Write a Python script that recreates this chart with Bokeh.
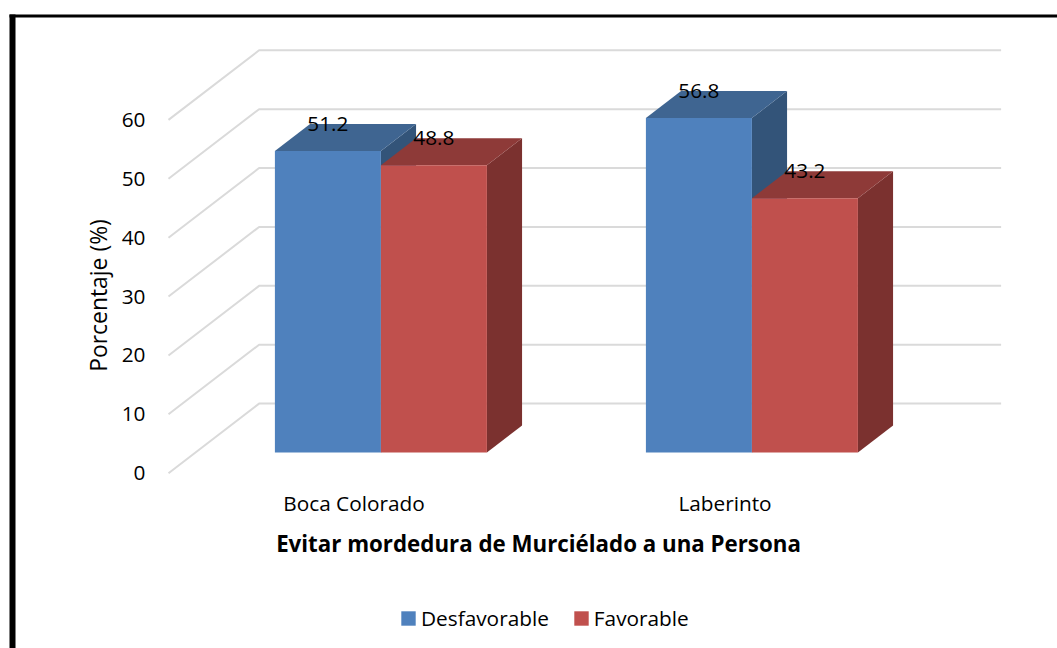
import math
from bokeh.plotting import figure
from bokeh.models import Range1d, FixedTicker, Legend, LegendItem, BoxAnnotation, ColumnDataSource, Label
from bokeh.core.properties import value
from bokeh.embed import file_html
from bokeh.resources import INLINE

categories = ["Boca Colorado", "Laberinto"]
series_names = ["Desfavorable", "Favorable"]
desfavorable = [51.2, 56.8]
favorable = [48.8, 43.2]
y_ticks = [0, 10, 20, 30, 40, 50, 60]
x_title = "Evitar mordedura de Murciélado a una Persona"
y_title = "Porcentaje (%)"

FONT = "Open Sans"
SIZE = "20.8px"
front_colors = ["#4F81BD", "#C0504D"]
top_colors = ["#3F6591", "#8E3A38"]
side_colors = ["#335479", "#7B312F"]
GRID = "#DADADA"
W, H = 1057, 648

DX, DY = 0.2442, 11.82      # oblique depth vector, in data units
NEAR, FAR = 0.297, 0.685    # bar depth extents
BAR_W = 1 / 3.5
GAP = 1.5 * BAR_W


def proj(x, v, d):
    return x + d * DX, v + d * DY


p = figure(width=W, height=H, output_backend="svg", toolbar_location=None,
           x_range=Range1d(-0.4528, 2.3962), y_range=Range1d(-29.77, 80.28),
           min_border=0, outline_line_color=None,
           background_fill_color="white", border_fill_color="white")
p.grid.visible = False

# walls
n = len(categories)
for t in y_ticks:
    xa, ya = proj(0, t, 0)
    xb, yb = proj(0, t, 1)
    xc, yc = proj(n, t, 1)
    p.line([xa, xb, xc], [ya, yb, yc], line_color=GRID, line_width=2)

# bars
legend_r = [None, None]
for i in range(n):
    for j, vals in enumerate([desfavorable, favorable]):
        v = vals[i]
        x0 = i + GAP / 2 + j * BAR_W
        x1 = x0 + BAR_W
        a = proj(x0, 0, NEAR); b = proj(x1, 0, NEAR)
        c = proj(x1, v, NEAR); d = proj(x0, v, NEAR)
        e = proj(x1, 0, FAR); f = proj(x1, v, FAR); g = proj(x0, v, FAR)
        p.patch([b[0], e[0], f[0], c[0]], [b[1], e[1], f[1], c[1]], fill_color=side_colors[j], line_color=None)
        p.patch([d[0], c[0], f[0], g[0]], [d[1], c[1], f[1], g[1]], fill_color=top_colors[j], line_color=None)
        r = p.quad(left=a[0], right=b[0], bottom=a[1], top=c[1], fill_color=front_colors[j], line_color=None)
        if legend_r[j] is None:
            legend_r[j] = r

# data labels
lx, ly, lt = [], [], []
for i in range(n):
    for j, vals in enumerate([desfavorable, favorable]):
        x0 = i + GAP / 2 + j * BAR_W
        px_, _ = proj(x0 + BAR_W / 2, 0, NEAR)
        _, py_ = proj(0, vals[i], FAR)
        lx.append(px_); ly.append(py_); lt.append(f"{vals[i]:.1f}")
p.text(x="x", y="y", text="t", source=ColumnDataSource(dict(x=lx, y=ly, t=lt)),
       text_align="center", text_baseline="middle", y_offset=0,
       text_font=value(FONT), text_font_size=SIZE, text_color="black")

# axes
ya = p.yaxis[0]
ya.fixed_location = 0
ya.ticker = FixedTicker(ticks=y_ticks)
ya.axis_line_color = None
ya.major_tick_line_color = None
ya.minor_tick_line_color = None
ya.major_label_standoff = 17
ya.major_label_text_font = FONT
ya.major_label_text_font_size = SIZE
ya.major_label_text_color = "black"

xa_ = p.xaxis[0]
xa_.fixed_location = 0
xa_.ticker = FixedTicker(ticks=[0.5, 1.5])
xa_.major_label_overrides = {0.5: categories[0], 1.5: categories[1]}
xa_.axis_line_color = None
xa_.major_tick_line_color = None
xa_.minor_tick_line_color = None
xa_.major_label_standoff = 10
xa_.major_label_text_font = FONT
xa_.major_label_text_font_size = SIZE
xa_.major_label_text_color = "black"

# axis titles
p.add_layout(Label(x=538, y=H - 543, x_units="screen", y_units="screen", text=x_title,
                   text_align="center", text_baseline="middle", text_font=FONT,
                   text_font_size="22.3px", text_font_style="bold", text_color="black"))
p.add_layout(Label(x=98, y=H - 295, x_units="screen", y_units="screen", text=y_title, angle=math.pi / 2,
                   text_align="center", text_baseline="middle", text_font=FONT,
                   text_font_size="22.9px", text_color="black"))

# legend
leg = Legend(items=[LegendItem(label=series_names[k], renderers=[legend_r[k]]) for k in range(2)],
             orientation="horizontal", location=(399, H - 632), padding=0, margin=0, spacing=23,
             glyph_width=18, glyph_height=18, label_standoff=4,
             label_text_font=FONT, label_text_font_size=SIZE, label_text_color="black",
             border_line_color=None, background_fill_alpha=0)
p.add_layout(leg, "center")

# chart-area frame
p.add_layout(BoxAnnotation(left=9, right=15, top=H - 14, bottom=0, left_units="screen", right_units="screen",
                           top_units="screen", bottom_units="screen", fill_color="black", fill_alpha=1, line_color=None))
p.add_layout(BoxAnnotation(left=9, right=W, top=H - 14, bottom=H - 17, left_units="screen", right_units="screen",
                           top_units="screen", bottom_units="screen", fill_color="black", fill_alpha=1, line_color=None))

open("out.html", "w").write(file_html(p, INLINE))
